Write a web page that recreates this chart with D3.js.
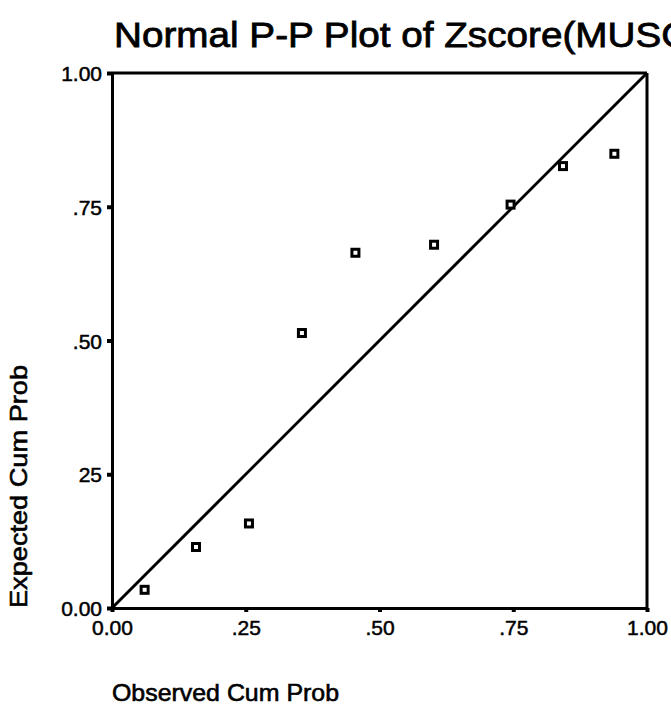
<!DOCTYPE html>
<html>
<head>
<meta charset="utf-8">
<script src="https://cdn.jsdelivr.net/npm/d3@7"></script>
<style>
  html, body { margin: 0; padding: 0; background: #fff; }
  svg { display: block; font-family: Arial, "Liberation Sans", Helvetica, sans-serif; }
</style>
</head>
<body>
<svg id="chart" width="671" height="709"></svg>
<script>
// Data
const observedCumProb = [0.061, 0.157, 0.256, 0.355, 0.455, 0.602, 0.745, 0.843, 0.939];
const expectedCumProb = [0.034, 0.114, 0.158, 0.514, 0.664, 0.679, 0.754, 0.826, 0.849];
const xTickValues = [0, 0.25, 0.5, 0.75, 1];
const xTickLabels = ["0.00", ".25", ".50", ".75", "1.00"];
const yTickValues = [0, 0.25, 0.5, 0.75, 1];
const yTickLabels = ["0.00", "25", ".50", ".75", "1.00"];
const titleText = "Normal P-P Plot of Zscore(MUSC)";
const xLabel = "Observed Cum Prob";
const yLabel = "Expected Cum Prob";

const svg = d3.select("#chart");
const plotLeft = 112, plotRight = 647, plotTop = 73, plotBottom = 608;

const x = d3.scaleLinear().domain([0, 1]).range([plotLeft, plotRight]);
const y = d3.scaleLinear().domain([0, 1]).range([plotBottom, plotTop]);

// Title (wide scanned lettering, runs off the right edge as in the reference)
svg.append("text")
  .attr("x", 114).attr("y", 47)
  .attr("font-size", 35)
  .attr("textLength", 588).attr("lengthAdjust", "spacingAndGlyphs")
  .attr("fill", "#000").attr("stroke", "#000").attr("stroke-width", 0.8)
  .text(titleText);

// Box (top & right)
svg.append("line").attr("x1", plotLeft).attr("x2", plotRight).attr("y1", plotTop).attr("y2", plotTop)
  .attr("stroke", "#000").attr("stroke-width", 3);
svg.append("line").attr("x1", plotRight).attr("x2", plotRight).attr("y1", plotTop).attr("y2", plotBottom)
  .attr("stroke", "#000").attr("stroke-width", 3);

// Axes
const xAxis = d3.axisBottom(x).tickValues(xTickValues)
  .tickFormat((d, i) => xTickLabels[i]).tickSize(4).tickPadding(8).tickSizeOuter(0);
const yAxis = d3.axisLeft(y).tickValues(yTickValues)
  .tickFormat((d, i) => yTickLabels[i]).tickSize(5).tickPadding(5).tickSizeOuter(0);

const gx = svg.append("g").attr("transform", `translate(0,${plotBottom})`).call(xAxis);
const gy = svg.append("g").attr("transform", `translate(${plotLeft},0)`).call(yAxis);

[gx, gy].forEach(g => {
  g.select(".domain").attr("stroke", "#000").attr("stroke-width", 3);
  g.selectAll(".tick line").attr("stroke", "#000").attr("stroke-width", 4);
  g.selectAll(".tick text").attr("fill", "#000").attr("font-size", 21)
    .attr("stroke", "#000").attr("stroke-width", 0.5)
    .attr("font-family", "Arial, 'Liberation Sans', sans-serif");
});
gy.selectAll(".tick text").attr("dy", "0.36em");
gx.selectAll(".tick text").attr("dy", "0.72em");

// Reference diagonal
svg.append("line")
  .attr("x1", x(0)).attr("y1", y(0)).attr("x2", x(1)).attr("y2", y(1))
  .attr("stroke", "#000").attr("stroke-width", 3);

// Points
const pts = observedCumProb.map((v, i) => ({ o: v, e: expectedCumProb[i] }));
svg.append("g").selectAll("rect").data(pts).enter().append("rect")
  .attr("x", d => x(d.o) - 3.5)
  .attr("y", d => y(d.e) - 3.5)
  .attr("width", 7).attr("height", 7)
  .attr("fill", "#fff").attr("stroke", "#000").attr("stroke-width", 3);

// Axis titles
svg.append("text")
  .attr("x", 112).attr("y", 701)
  .attr("font-size", 24)
  .attr("textLength", 227).attr("lengthAdjust", "spacingAndGlyphs")
  .attr("fill", "#000").attr("stroke", "#000").attr("stroke-width", 0.6)
  .text(xLabel);

svg.append("text")
  .attr("transform", "translate(27,608) rotate(-90)")
  .attr("font-size", 24)
  .attr("textLength", 243).attr("lengthAdjust", "spacingAndGlyphs")
  .attr("fill", "#000").attr("stroke", "#000").attr("stroke-width", 0.6)
  .text(yLabel);
</script>
</body>
</html>
